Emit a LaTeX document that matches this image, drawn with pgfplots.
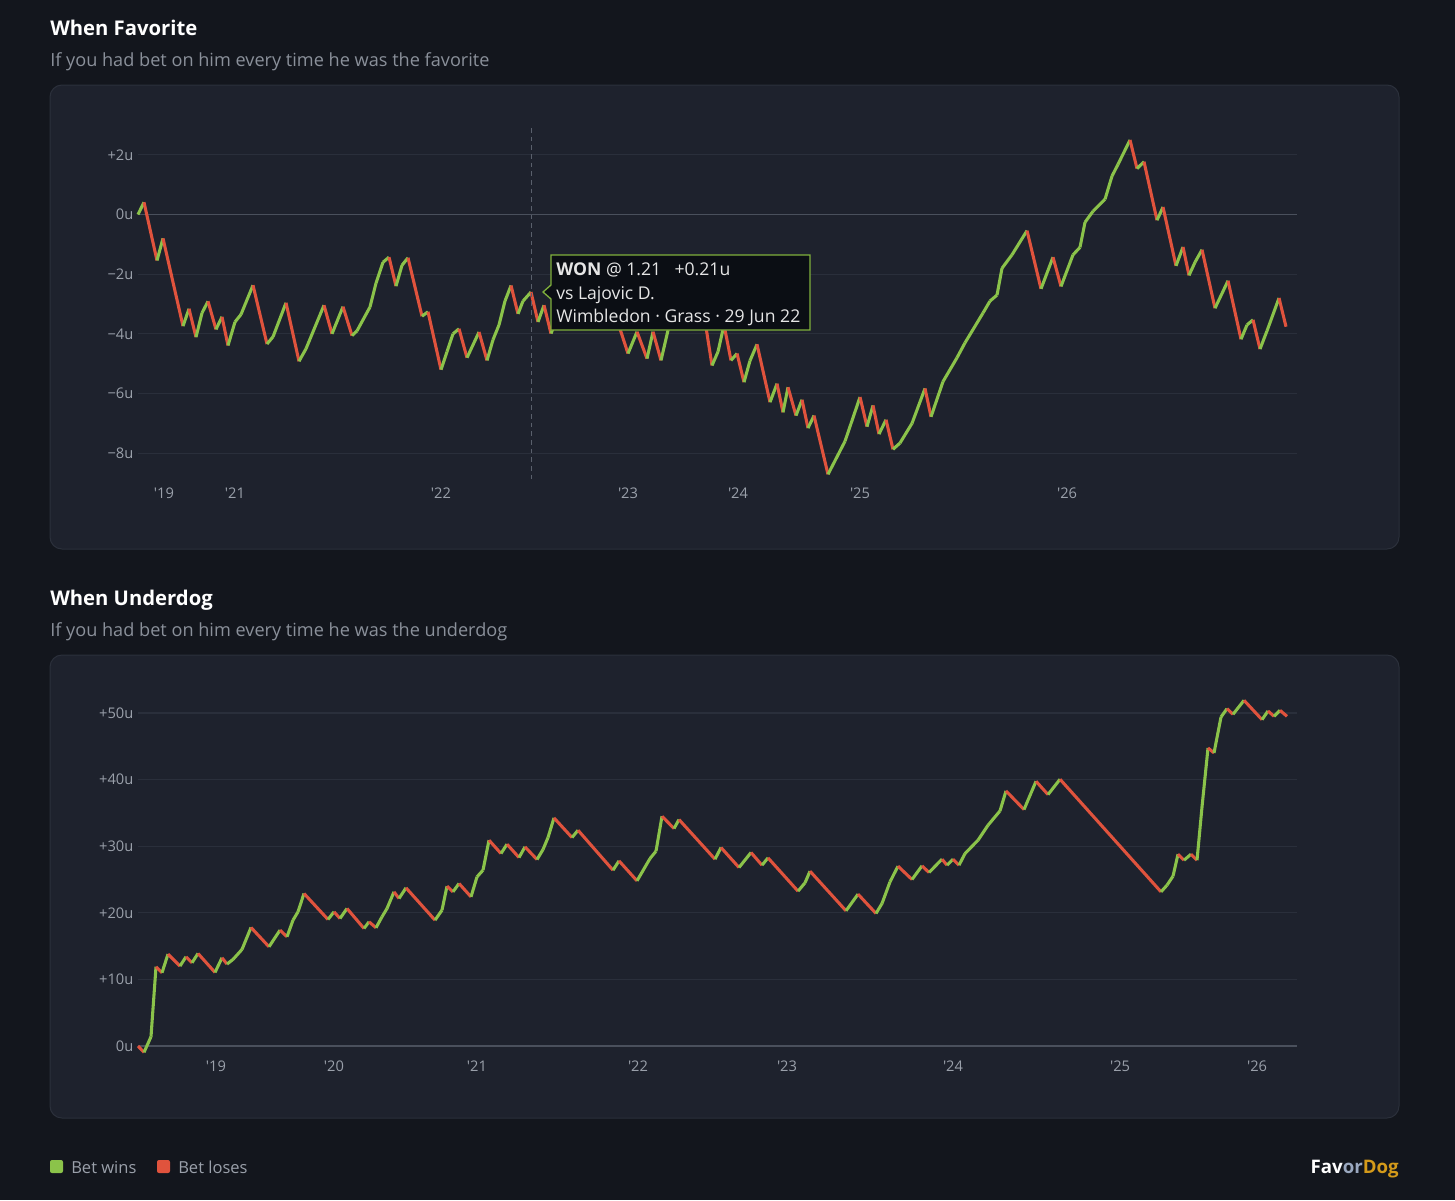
\documentclass[border=0pt]{standalone}
\usepackage{pgfplots}
\pgfplotsset{compat=1.18}
\usepackage{fontspec}
\setmainfont{Open Sans}
\newfontfamily\tickfont{Open Sans}
\definecolor{bgc}{HTML}{13161D}
\definecolor{panel}{HTML}{1E222D}
\definecolor{pborder}{HTML}{2B303B}
\definecolor{gridc}{HTML}{2A2F3B}
\definecolor{zeroc}{HTML}{4A505C}
\definecolor{tickc}{HTML}{9AA0AA}
\definecolor{subc}{HTML}{8A909A}
\definecolor{wingreen}{HTML}{8BC34A}
\definecolor{lossred}{HTML}{E0533D}
\definecolor{tipbg}{HTML}{0B0E14}
\definecolor{tipborder}{HTML}{7FB03C}
\definecolor{gold}{HTML}{D49A1A}
\definecolor{orc}{HTML}{9AA8C0}
\definecolor{hoverc}{HTML}{5A606C}

\pgfplotstableread{
x y d
138 0 1
144 0.41 -1
157 -1.54 1
163 -0.80 -1
183 -3.74 1
189 -3.16 -1
196 -4.11 1
202 -3.3 1
208 -2.91 -1
216 -3.85 1
222 -3.43 -1
228 -4.39 1
235 -3.6 1
241 -3.35 1
253 -2.37 -1
267 -4.34 1
273 -4.1 1
286 -2.96 -1
299 -4.92 1
306 -4.5 1
324 -3.04 -1
332 -4.0 1
343 -3.09 -1
352 -4.06 1
357 -3.9 1
370 -3.1 1
376 -2.3 1
383 -1.6 1
389 -1.43 -1
396 -2.40 1
402 -1.7 1
408 -1.45 -1
422 -3.41 1
428 -3.26 -1
441 -5.20 1
447 -4.6 1
453 -4.0 1
459 -3.83 -1
467 -4.80 1
479 -3.94 -1
487 -4.89 1
493 -4.2 1
499 -3.7 1
505 -2.9 1
511 -2.38 -1
518 -3.33 1
523 -2.9 1
531 -2.60 -1
538 -3.60 1
544 -3.04 -1
551 -3.99 1
558 -3.4 1
565 -2.8 -1
572 -3.5 1
583 -2.6 1
590 -2.2 -1
600 -3.1 1
608 -2.6 -1
628 -4.66 1
637 -3.93 -1
647 -4.83 1
653 -3.93 -1
661 -4.89 1
668 -3.88 1
676 -2.9 1
684 -2.4 -1
692 -3.0 1
700 -2.5 -1
712 -5.06 1
718 -4.6 1
724 -3.7 -1
731 -4.89 1
737 -4.66 -1
744 -5.62 1
750 -4.9 1
757 -4.35 -1
770 -6.29 1
777 -5.67 -1
783 -6.63 1
788 -5.79 -1
796 -6.74 1
802 -6.21 -1
808 -7.16 1
814 -6.74 -1
828 -8.71 1
845 -7.6 1
860 -6.12 -1
867 -7.11 1
873 -6.40 -1
879 -7.36 1
886 -6.88 -1
893 -7.87 1
900 -7.66 1
912 -7.0 1
925 -5.83 -1
931 -6.78 1
943 -5.6 1
957 -4.8 1
965 -4.3 1
983 -3.3 1
990 -2.9 1
997 -2.7 1
1002 -1.8 1
1012 -1.35 1
1027 -0.54 -1
1041 -2.49 1
1053 -1.43 -1
1061 -2.41 1
1073 -1.35 1
1080 -1.1 1
1085 -0.26 1
1093 0.11 1
1105 0.51 1
1112 1.29 1
1118 1.68 1
1130 2.50 -1
1137 1.54 1
1144 1.77 -1
1157 -0.19 1
1163 0.25 -1
1176 -1.72 1
1183 -1.09 -1
1189 -2.04 1
1195 -1.6 1
1202 -1.18 -1
1215 -3.14 1
1228 -2.22 -1
1241 -4.18 1
1247 -3.7 1
1253 -3.53 -1
1260 -4.51 1
1267 -3.9 1
1279 -2.80 -1
1286 -3.76 -1
}\favtable

\pgfplotstableread{
x y d
138 0 -1
144 -0.95 1
151 1.4 1
156 11.9 -1
162 11.0 1
168 13.8 -1
180 12.0 1
186 13.4 -1
192 12.5 1
198 13.9 -1
215 11.05 1
222 13.25 -1
227 12.3 1
233 13.0 1
242 14.5 1
251 17.8 -1
269 14.9 1
280 17.4 -1
287 16.4 1
293 18.9 1
298 20.15 1
304 22.9 -1
328 19.0 1
334 20.15 -1
340 19.15 1
347 20.65 -1
364 17.65 1
369 18.65 -1
376 17.75 1
382 19.4 1
387 20.65 1
394 23.15 -1
399 22.15 1
406 23.75 -1
435 18.9 1
442 20.4 1
447 24.0 -1
453 23.15 1
459 24.4 -1
471 22.4 1
477 25.4 1
483 26.4 1
489 30.9 -1
501 28.9 1
507 30.3 -1
519 28.3 1
525 29.9 -1
537 28.0 1
543 29.5 1
548 31.3 1
554 34.25 -1
572 31.3 1
578 32.4 -1
613 26.4 1
619 27.8 -1
637 24.8 1
650 28.15 1
656 29.25 1
662 34.5 -1
674 32.65 1
679 34.0 -1
715 28.05 1
721 29.8 -1
739 26.8 1
751 29.05 -1
762 27.15 1
768 28.25 -1
798 23.25 1
805 24.5 1
810 26.25 -1
846 20.3 1
858 22.8 -1
876 19.9 1
882 21.4 1
890 24.65 1
898 27.0 -1
912 25.0 1
922 27.05 -1
929 26.05 1
942 28.05 -1
947 27.15 1
953 28.05 -1
959 27.15 1
965 28.9 1
978 30.9 1
988 33.15 1
1000 35.3 1
1006 38.3 -1
1024 35.5 1
1036 39.75 -1
1048 37.75 1
1060 40.05 -1
1161 23.15 1
1167 24.15 1
1173 25.5 1
1178 28.8 -1
1184 27.9 1
1191 28.8 -1
1197 27.9 1
1202 35.9 1
1208 44.75 -1
1214 44.0 1
1221 49.4 1
1227 50.65 -1
1233 49.8 1
1244 51.9 -1
1262 49.0 1
1268 50.3 -1
1274 49.5 1
1280 50.4 -1
1287 49.5 -1
}\dogtable

\pgfplotsset{
  chartstyle/.style={
    scale only axis,
    width=869.25pt,
    xmin=138, xmax=1297,
    axis line style={draw=none},
    tick style={draw=none},
    major tick length=0pt,
    ymajorgrids,
    grid style={gridc, line width=0.9pt},
    ticklabel style={font=\tickfont\fontsize{11}{13}\selectfont, text=tickc},
    colormap={rg}{color=(lossred) color=(wingreen)},
    point meta min=-1, point meta max=1,
    clip=false,
  },
}

\begin{document}
\begin{tikzpicture}[x=0.75pt,y=-0.75pt]
\fill[bgc] (0,0) rectangle (1455,1200);
% titles
\node[anchor=base west, inner sep=0, text=white, font=\fontsize{15.2}{18}\selectfont\bfseries] at (50,35) {When Favorite};
\node[anchor=base west, inner sep=0, text=subc, font=\fontsize{13.6}{16}\selectfont] at (50,66) {If you had bet on him every time he was the favorite};
\node[anchor=base west, inner sep=0, text=white, font=\fontsize{15.2}{18}\selectfont\bfseries] at (50,605) {When Underdog};
\node[anchor=base west, inner sep=0, text=subc, font=\fontsize{13.6}{16}\selectfont] at (50,636) {If you had bet on him every time he was the underdog};
% panels
\filldraw[fill=panel, draw=pborder, line width=0.75pt, rounded corners=9pt] (50,85) rectangle (1399,549);
\filldraw[fill=panel, draw=pborder, line width=0.75pt, rounded corners=9pt] (50,655) rectangle (1399,1118);

\begin{axis}[chartstyle,
  at={(103.5pt,-362.25pt)}, anchor=south west,
  height=266.25pt,
  ymin=-9.0, ymax=2.9,
  ytick={-8,-6,-4,-2,2}, yticklabels={−8u,−6u,−4u,−2u,+2u},
  extra y ticks={0}, extra y tick labels={0u},
  extra y tick style={grid style={zeroc, line width=1.2pt}},
  xtick={164,235,441,628,738,860,1067},
  xticklabels={'19,'21,'22,'23,'24,'25,'26},
]
\addplot[mesh, shader=flat corner, line width=2.3pt, point meta=explicit] table[x=x,y=y,meta=d] {\favtable};
\end{axis}

\begin{axis}[chartstyle,
  at={(103.5pt,-792pt)}, anchor=south west,
  height=272.25pt,
  ymin=-1.5, ymax=53,
  ytick={10,20,30,40,50}, yticklabels={+10u,+20u,+30u,+40u,+50u},
  extra y ticks={0}, extra y tick labels={0u},
  extra y tick style={grid style={zeroc, line width=1.2pt}},
  xtick={216,334,477,638,787,953,1120,1257},
  xticklabels={'19,'20,'21,'22,'23,'24,'25,'26},
]
\addplot[mesh, shader=flat corner, line width=2.3pt, point meta=explicit] table[x=x,y=y,meta=d] {\dogtable};
\end{axis}

% hover line and tooltip
\draw[hoverc, line width=0.75pt, dash pattern=on 3.5pt off 3pt] (531,128) -- (531,483);
\filldraw[fill=tipbg, draw=tipborder, line width=1pt] (551,255) -- (810,255) -- (810,330) -- (551,330) -- (551,299) -- (543,292) -- (551,285) -- cycle;
\node[anchor=base west, inner sep=0, text=white!90!black, font=\fontsize{13.2}{15}\selectfont] at (556,275) {\textbf{WON} @ 1.21\hspace{10pt}+0.21u};
\node[anchor=base west, inner sep=0, text=white!90!black, font=\fontsize{13.2}{15}\selectfont] at (556,299) {vs Lajovic D.};
\node[anchor=base west, inner sep=0, text=white!90!black, font=\fontsize{13.2}{15}\selectfont] at (556,322) {Wimbledon · Grass · 29 Jun 22};

% legend
\fill[wingreen, rounded corners=1.5pt] (50,1160) rectangle (63,1173);
\node[anchor=base west, inner sep=0, text=tickc, font=\fontsize{12.4}{14}\selectfont] at (71,1173) {Bet wins};
\fill[lossred, rounded corners=1.5pt] (157,1160) rectangle (170,1173);
\node[anchor=base west, inner sep=0, text=tickc, font=\fontsize{12.4}{14}\selectfont] at (178,1173) {Bet loses};
\node[anchor=base east, inner sep=0, font=\fontsize{14}{16}\selectfont\bfseries] at (1399,1173) {\textcolor{white}{Fav}\textcolor{orc}{or}\textcolor{gold}{Dog}};
\end{tikzpicture}
\end{document}
